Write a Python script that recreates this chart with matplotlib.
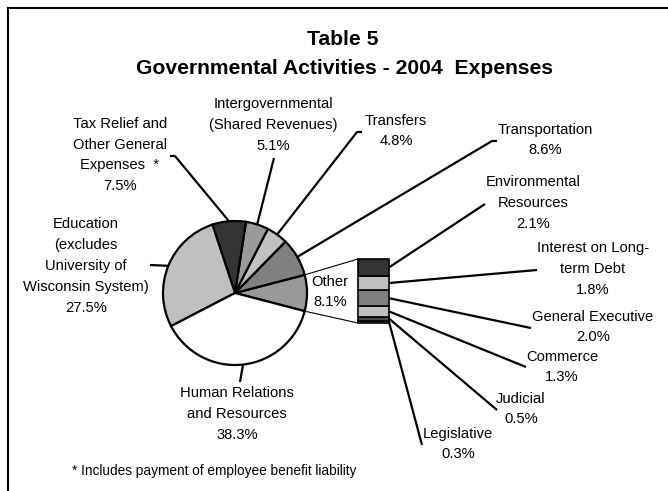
import numpy as np
import matplotlib.pyplot as plt
from matplotlib.patches import Rectangle

plt.rcParams['font.family'] = ['Liberation Sans', 'DejaVu Sans']

# --- DATA ---
pie_names = ["Other", "Transportation", "Transfers",
             "Intergovernmental\n(Shared Revenues)",
             "Tax Relief and\nOther General\nExpenses  *",
             "Education\n(excludes\nUniversity of\nWisconsin System)",
             "Human Relations\nand Resources"]
pie_values = [8.1, 8.6, 4.8, 5.1, 7.5, 27.5, 38.3]
pie_colors = ["#999999", "#808080", "#c0c0c0", "#9a9a9a", "#333333", "#c0c0c0", "#ffffff"]

bar_names = ["Environmental\nResources", "Interest on Long-\nterm Debt", "General Executive",
             "Commerce", "Judicial", "Legislative"]
bar_values = [2.1, 1.8, 2.0, 1.3, 0.5, 0.3]
bar_colors = ["#333333", "#c0c0c0", "#808080", "#c0c0c0", "#4d4d4d", "#969696"]

# --- LAYOUT (pixel coords, y measured from top) ---
H = 491
cx, cy, R = 235, H - 293, 72
bar_left, bar_right = 358, 389
bar_top, bar_bottom = H - 259, H - 323

# label centre, leader end, optional short stub end
pie_label_pos = [(330, 292), (545, 140), (396, 131), (273, 125), (120, 155), (86, 266), (237, 414)]
pie_leader_end = [None, (492, 141), (357, 132), (274, 158), (175, 156), (150, 265), (240, 382)]
pie_stub_end = [None, (497, 141), (362, 132), None, (170, 156), None, None]

bar_label_pos = [(533, 203), (593, 269), (593, 327), (562, 367), (521, 409), (458, 444)]
bar_leader_end = [(485, 204), (537, 270), (531, 328), (526, 367), (497, 410), (422, 445)]

fig = plt.figure(figsize=(6.68, 4.91), dpi=100)
ax = fig.add_axes([0, 0, 1, 1])

# pie
total = sum(pie_values)
start = -pie_values[0] / total * 360 / 2
ax.pie(pie_values, colors=pie_colors, startangle=start, counterclock=True,
       center=(cx, cy), radius=R,
       wedgeprops=dict(edgecolor="black", linewidth=1.6))

# stacked bar for "Other"
scale = (bar_top - bar_bottom) / sum(bar_values)
bottom = bar_bottom
bar_mid = []
for name, v, c in zip(bar_names[::-1], bar_values[::-1], bar_colors[::-1]):
    ax.bar((bar_left + bar_right) / 2, v * scale, width=bar_right - bar_left, bottom=bottom,
           color=c, edgecolor="black", linewidth=1.2)
    bar_mid.append(bottom + v * scale / 2)
    bottom += v * scale
bar_mid = bar_mid[::-1]

# connector lines pie -> bar
a = np.deg2rad(start)
ax.plot([cx + R * np.cos(-a), bar_left], [cy + R * np.sin(-a), bar_top], color="black", lw=0.8)
ax.plot([cx + R * np.cos(a), bar_left], [cy + R * np.sin(a), bar_bottom], color="black", lw=0.8)

# pie labels and leaders
fs = 10.6
ls = 1.63
cum = start
for i, (name, v) in enumerate(zip(pie_names, pie_values)):
    ang = np.deg2rad(cum + v / total * 360 / 2)
    cum += v / total * 360
    lx, ly = pie_label_pos[i]
    ax.text(lx, H - ly, f"{name}\n{v:.1f}%", ha="center", va="center",
            fontsize=fs, linespacing=ls)
    if pie_leader_end[i] is not None:
        ex, ey = pie_leader_end[i]
        xs = [cx + R * np.cos(ang), ex]
        ys = [cy + R * np.sin(ang), H - ey]
        if pie_stub_end[i] is not None:
            xs.append(pie_stub_end[i][0])
            ys.append(H - pie_stub_end[i][1])
        ax.plot(xs, ys, color="black", lw=1.6, solid_capstyle="butt")

# bar labels and leaders
for i, (name, v) in enumerate(zip(bar_names, bar_values)):
    lx, ly = bar_label_pos[i]
    ax.text(lx, H - ly, f"{name}\n{v:.1f}%", ha="center", va="center",
            fontsize=fs, linespacing=ls)
    ex, ey = bar_leader_end[i]
    ax.plot([bar_right, ex], [bar_mid[i], H - ey], color="black", lw=1.6, solid_capstyle="butt")

# titles and footnote
ax.text(343, H - 39, "Table 5", ha="center", va="center", fontsize=15.2, fontweight="bold")
ax.text(344, H - 68, "Governmental Activities - 2004  Expenses", ha="center", va="center",
        fontsize=15.2, fontweight="bold")
ax.text(72, H - 471, "* Includes payment of employee benefit liability", ha="left", va="center",
        fontsize=9.8)

# outer frame (right and bottom fall outside the picture)
ax.add_patch(Rectangle((8, -20), 700, H - 8 + 20, fill=False, edgecolor="black", lw=1.5))

ax.set_xlim(0, 668)
ax.set_ylim(0, H)
ax.set_aspect("auto")
ax.axis("off")

fig.savefig("out.png", dpi=100)
